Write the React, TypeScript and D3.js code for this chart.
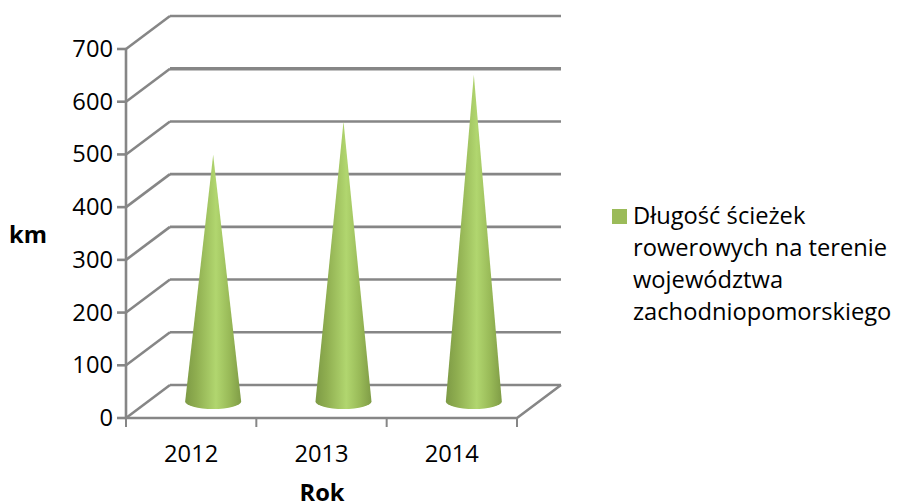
import React from "react";
import * as d3 from "d3";

const categories = ["2012", "2013", "2014"];
const values = [468, 531, 620];
const yTicks = [0, 100, 200, 300, 400, 500, 600, 700];
const legendLines = ["Długość ścieżek", "rowerowych na terenie", "województwa", "zachodniopomorskiego"];
const FONT = "'Open Sans', 'Noto Sans', sans-serif";
const GRID = "#868686";

export default function App() {
  const x = d3.scaleBand<string>().domain(categories).range([126, 517]);
  const y = d3.scaleLinear().domain([0, 700]).range([418, 49]);
  const dx = 44, dy = -33;
  const cdx = 22, cdy = -16.5;
  const rx = 28, ry = 7.5;
  const edges = [...categories.map((c) => x(c)!), 517];
  return (
    <svg width={897} height={504} style={{ position: "fixed", left: 0, top: 0, background: "#fff" }}>
      <defs>
        <linearGradient id="cone" x1="0" x2="1" y1="0" y2="0">
          <stop offset="0" stopColor="#7d9a45" />
          <stop offset="0.2" stopColor="#8fae50" />
          <stop offset="0.55" stopColor="#b1d66f" />
          <stop offset="0.8" stopColor="#98b957" />
          <stop offset="1" stopColor="#7f9c46" />
        </linearGradient>
      </defs>
      {yTicks.map((t) => (
        <g key={t} stroke={GRID} fill="none" strokeWidth={2.6}>
          <path d={`M126,${y(t)}L${126 + dx},${y(t) + dy}`} />
          <path d={`M${126 + dx},${y(t) + dy}L561,${y(t) + dy}`} strokeWidth={t === 600 ? 3.6 : 2.6} />
          <path d={`M117,${y(t)}L126,${y(t)}`} />
        </g>
      ))}
      <path d={`M126,${y(700)}L126,${y(0)}L517,${y(0)}L561,${y(0) + dy}`} stroke={GRID} strokeWidth={2.6} fill="none" />
      {edges.map((e, i) => (
        <path key={i} d={`M${e},${y(0)}L${e},${y(0) + 9}`} stroke={GRID} strokeWidth={2} />
      ))}
      {categories.map((c, i) => {
        const cx = x(c)! + x.bandwidth() / 2 + cdx;
        const base = y(0) + cdy;
        const top = y(values[i]) + cdy;
        return (
          <path
            key={c}
            d={`M${cx},${top}L${cx + rx},${base}A${rx},${ry} 0 0 1 ${cx - rx},${base}Z`}
            fill="url(#cone)"
          />
        );
      })}
      <g fontFamily={FONT} fontSize={23.7} fill="#000">
        {yTicks.map((t) => (
          <text key={t} x={113} y={y(t) + 8} textAnchor="end">{t}</text>
        ))}
        {categories.map((c) => (
          <text key={c} x={x(c)! + x.bandwidth() / 2} y={462} textAnchor="middle">{c}</text>
        ))}
        <text x={9} y={243} fontWeight={700}>km</text>
        <text x={322} y={501} textAnchor="middle" fontWeight={700}>Rok</text>
        <rect x={612} y={209} width={15} height={15} fill="#9bbb59" />
        {legendLines.map((l, i) => (
          <text key={l} x={633} y={224 + i * 32}>{l}</text>
        ))}
      </g>
    </svg>
  );
}
